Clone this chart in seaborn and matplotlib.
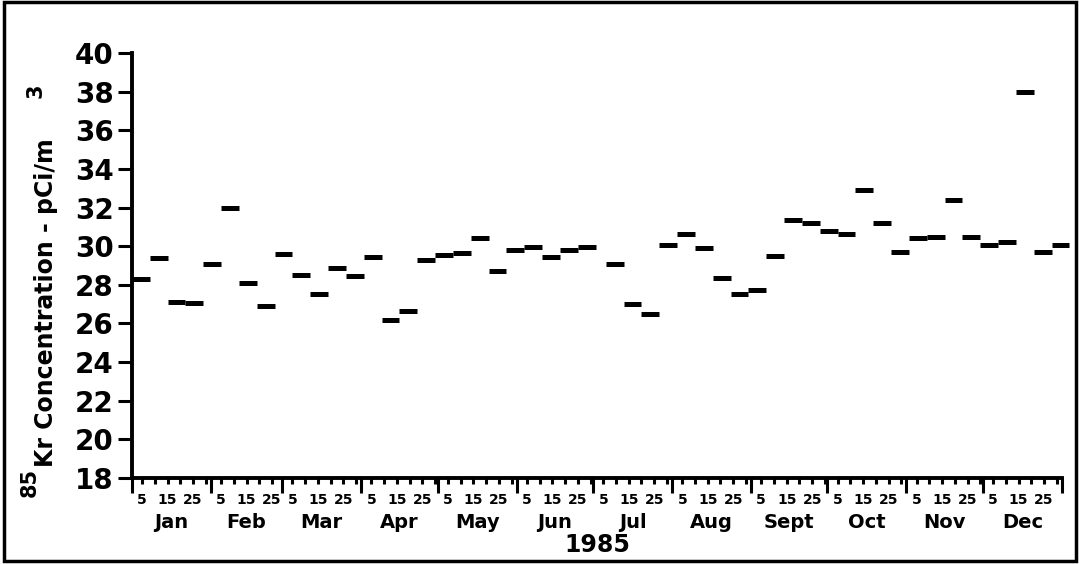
import pandas as pd
import numpy as np
import matplotlib
matplotlib.use("Agg")
import matplotlib.pyplot as plt
import seaborn as sns
from matplotlib.patches import Rectangle

# weekly 85Kr samples, 1985 (start day of year, pCi/m3)
start_day = [0, 7, 14, 21, 28, 35, 42, 49, 56, 63, 70, 77, 84, 91, 98, 105,
             112, 119, 126, 133, 140, 147, 154, 161, 168, 175,
             186, 193, 200, 207, 214, 221, 228, 235, 242, 249, 256, 263, 270,
             277, 284, 291, 298, 305, 312, 319, 326, 333, 340, 347, 354, 361]
kr85 = [28.3, 29.4, 27.1, 27.05, 29.1, 32.0, 28.1, 26.9, 29.6, 28.5, 27.5,
        28.85, 28.45, 29.45, 26.2, 26.65, 29.3, 29.55, 29.65, 30.4, 28.7,
        29.8, 29.95, 29.45, 29.8, 29.95,
        29.1, 27.0, 26.5, 30.05, 30.65, 29.9, 28.35, 27.55, 27.75, 29.5,
        31.35, 31.2, 30.8, 30.65, 32.9, 31.2, 29.7, 30.4, 30.5, 32.4, 30.5,
        30.05, 30.2, 38.0, 29.7, 30.05]
sample_len = 7

months = ["Jan", "Feb", "Mar", "Apr", "May", "Jun", "Jul", "Aug", "Sept",
          "Oct", "Nov", "Dec"]
month_len = [31, 28, 31, 30, 31, 30, 31, 31, 30, 31, 30, 31]
y_ticks = [18, 20, 22, 24, 26, 28, 30, 32, 34, 36, 38, 40]

# two rows per sample -> one short horizontal dash each
rows = []
for i, (d, v) in enumerate(zip(start_day, kr85)):
    rows.append({"sample": i, "day": d, "kr85": v})
    rows.append({"sample": i, "day": d + sample_len, "kr85": v})
df = pd.DataFrame(rows)

sns.set_style("ticks")
plt.rcParams["font.family"] = ["DejaVu Sans"]
plt.rcParams["font.weight"] = "bold"
for k in ["text.color", "axes.labelcolor", "xtick.color", "ytick.color",
          "axes.edgecolor"]:
    plt.rcParams[k] = "black"

fig = plt.figure(figsize=(10.8, 5.64), dpi=100)
ax = fig.add_axes([0.1222, 0.1525, 0.861, 0.7535])

sns.lineplot(data=df, x="day", y="kr85", units="sample", estimator=None,
             color="black", linewidth=3.6, solid_capstyle="butt",
             clip_on=False, ax=ax)

ax.set_xlim(0, 365)
ax.set_ylim(18, 40)
sns.despine(ax=ax)
for s in ["left", "bottom"]:
    ax.spines[s].set_linewidth(2.8)

# y axis
ax.set_yticks(y_ticks)
ax.set_yticklabels([str(t) for t in y_ticks], fontsize=20, fontweight="bold")
ax.tick_params(axis="y", length=10, width=2.2, pad=3)

# x axis: month boundaries (major) and 5-day ticks (minor, labelled 5/15/25)
bounds = [0]
for n in month_len:
    bounds.append(bounds[-1] + n)
ax.set_xticks(bounds, labels=[""] * len(bounds))
minor_pos, minor_lab = [], []
for b, n in zip(bounds[:-1], month_len):
    for d in range(5, n + 1, 5):
        minor_pos.append(b + d - 1)
        minor_lab.append(str(d) if d in (5, 15, 25) else "")
ax.set_xticks(minor_pos, labels=minor_lab, minor=True)
ax.tick_params(axis="x", which="major", length=11, width=2.2)
ax.tick_params(axis="x", which="minor", length=4.5, width=2.2, pad=6,
               labelsize=10)
for t in ax.get_xticklabels(minor=True):
    t.set_fontweight("bold")

ax.set_xlabel("")
ax.set_ylabel("")

trans = ax.get_xaxis_transform()
for b, n, m in zip(bounds[:-1], month_len, months):
    ax.text(b + n / 2, -0.1176, m, transform=trans, ha="center",
            va="baseline", fontsize=14, fontweight="bold")
ax.text(182.5, -0.174, "1985", transform=trans, ha="center", va="baseline",
        fontsize=17, fontweight="bold")

# y label: superscript 85 and 3 drawn full size like the original
fig.text(29.5 / 1080, 1 - 482 / 564, "85", rotation=90, ha="center",
         va="center", fontsize=15, fontweight="bold")
fig.text(46 / 1080, 1 - 467 / 564, "Kr Concentration - pCi/m", rotation=90,
         ha="center", va="bottom", fontsize=17, fontweight="bold")
fig.text(35.5 / 1080, 1 - 91 / 564, "3", rotation=90, ha="center",
         va="center", fontsize=15, fontweight="bold")

# page frame
fig.patches.append(Rectangle((0.004, 0.006), 0.992, 0.99,
                             transform=fig.transFigure, fill=False,
                             edgecolor="black", linewidth=2.5))

fig.savefig("out.png", dpi=100)
